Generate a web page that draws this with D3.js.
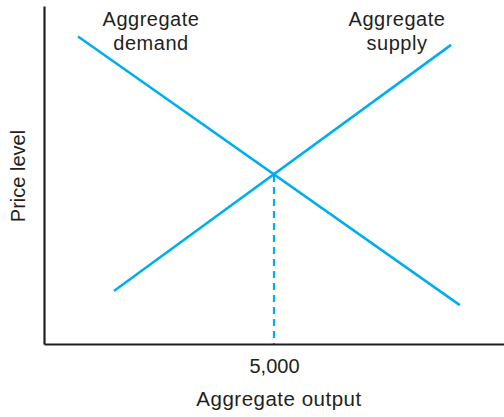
<!DOCTYPE html>
<html>
<head>
<meta charset="utf-8">
<script src="https://cdn.jsdelivr.net/npm/d3@7"></script>
<style>
  html, body { margin: 0; padding: 0; background: #fff; }
  svg { display: block; }
  text { font-family: "Liberation Sans", Arial, Helvetica, sans-serif; fill: #231f20; }
</style>
</head>
<body>
<svg id="chart" width="504" height="417"></svg>
<script>
// ---- data ----
const demandOutput = [740, 9040];
const demandPrice  = [91, 11.5];
const supplyOutput = [1520, 8850];
const supplyPrice  = [15.7, 88.5];
const equilibriumOutput = 5000;
const equilibriumPrice  = 50;
const xTickValues = [5000];
const xTickLabels = ["5,000"];
const curveLabels = [["Aggregate", "demand"], ["Aggregate", "supply"]];
const xTitle = "Aggregate output";
const yTitle = "Price level";

// ---- layout ----
const W = 504, H = 417;
const mLeft = 44, mRight = 504, mTop = 6, mBottom = 344;
const svg = d3.select("#chart");

const x = d3.scaleLinear().domain([0, 10000]).range([mLeft, mRight]);
const y = d3.scaleLinear().domain([0, 100]).range([mBottom, mTop]);

const lineColor = "#00aeef";
const axisColor = "#231f20";

// curves
const line = d3.line().x(d => x(d[0])).y(d => y(d[1]));
const ad = d3.zip(demandOutput, demandPrice);
const as = d3.zip(supplyOutput, supplyPrice);

svg.append("path").datum(ad).attr("d", line)
  .attr("fill", "none").attr("stroke", lineColor).attr("stroke-width", 2.5);
svg.append("path").datum(as).attr("d", line)
  .attr("fill", "none").attr("stroke", lineColor).attr("stroke-width", 2.5);

// dashed drop line
svg.append("line")
  .attr("x1", x(equilibriumOutput)).attr("x2", x(equilibriumOutput))
  .attr("y1", y(equilibriumPrice)).attr("y2", y(0))
  .attr("stroke", lineColor).attr("stroke-width", 2.2)
  .attr("stroke-dasharray", "7,5");

// axes
const xAxis = d3.axisBottom(x).tickValues(xTickValues)
  .tickFormat((d, i) => xTickLabels[i]).tickSize(0).tickPadding(15);
const gx = svg.append("g").attr("transform", `translate(0,${mBottom})`).call(xAxis);
gx.select(".domain").attr("stroke", axisColor).attr("stroke-width", 2.2);
gx.selectAll("text").attr("font-size", 20).attr("fill", axisColor)
  .style("font-family", '"Liberation Sans", Arial, sans-serif');

const yAxis = d3.axisLeft(y).tickValues([]).tickSize(0);
const gy = svg.append("g").attr("transform", `translate(${mLeft},0)`).call(yAxis);
gy.select(".domain").attr("stroke", axisColor).attr("stroke-width", 2.2);

// curve labels
const labelPos = [[151, 26], [397, 26]];
curveLabels.forEach((lines, i) => {
  const t = svg.append("text").attr("text-anchor", "middle").attr("font-size", 20)
    .attr("letter-spacing", 0.5);
  lines.forEach((s, j) => {
    t.append("tspan").attr("x", labelPos[i][0]).attr("y", labelPos[i][1] + j * 24).text(s);
  });
});

// axis titles
svg.append("text").attr("x", 279).attr("y", 406)
  .attr("text-anchor", "middle").attr("font-size", 20.5).attr("letter-spacing", 0.5).text(xTitle);
svg.append("text").attr("transform", `translate(25,176) rotate(-90)`)
  .attr("text-anchor", "middle").attr("font-size", 20).text(yTitle);
</script>
</body>
</html>
